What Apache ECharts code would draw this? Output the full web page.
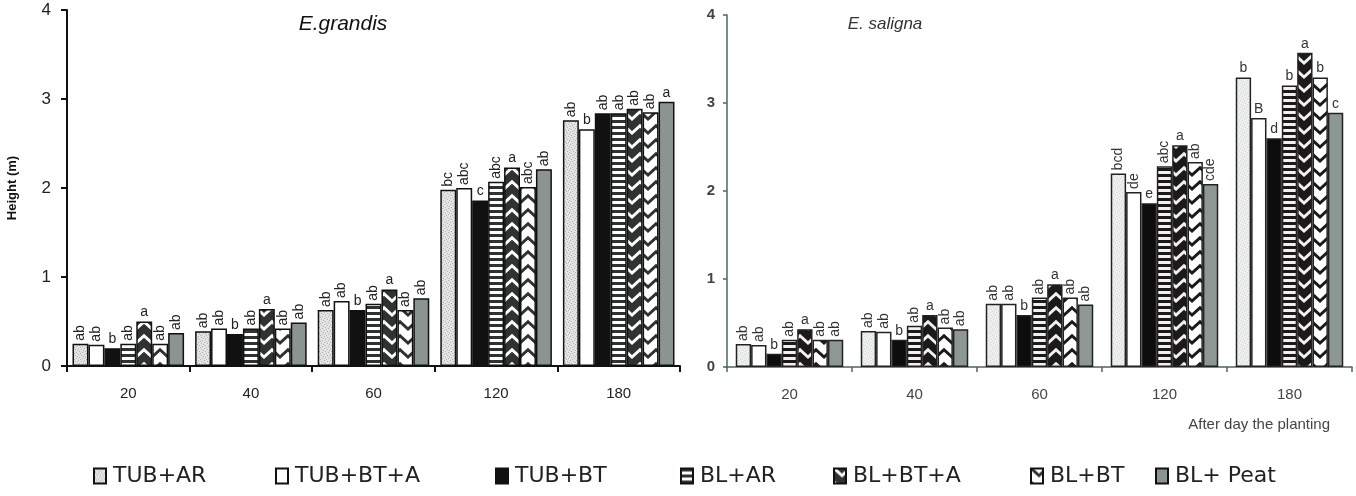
<!DOCTYPE html>
<html><head><meta charset="utf-8">
<script src="https://cdn.jsdelivr.net/npm/echarts@6/dist/echarts.min.js"></script>
<style>html,body{margin:0;padding:0;background:#fff}#c{width:1356px;height:496px}</style>
</head><body><div id="c"></div>
<script>
// ---- data ----
const categories = ['20', '40', '60', '120', '180'];
const treatments = ['TUB+AR', 'TUB+BT+A', 'TUB+BT', 'BL+AR', 'BL+BT+A', 'BL+BT', 'BL+ Peat'];
const yTicks = [0, 1, 2, 3, 4];

// E. grandis heights (m) per treatment across days 20,40,60,120,180
const grandis_TUB_AR   = [0.25, 0.39, 0.63, 1.98, 2.76];
const grandis_TUB_BT_A = [0.24, 0.42, 0.73, 2.00, 2.66];
const grandis_TUB_BT   = [0.20, 0.36, 0.63, 1.86, 2.84];
const grandis_BL_AR    = [0.25, 0.42, 0.70, 2.07, 2.84];
const grandis_BL_BT_A  = [0.50, 0.64, 0.86, 2.23, 2.89];
const grandis_BL_BT    = [0.25, 0.42, 0.63, 2.01, 2.85];
const grandis_BL_Peat  = [0.37, 0.49, 0.76, 2.21, 2.97];

const grandisLetters_TUB_AR   = ['ab', 'ab', 'ab', 'bc', 'ab'];
const grandisLetters_TUB_BT_A = ['ab', 'ab', 'ab', 'abc', 'b'];
const grandisLetters_TUB_BT   = ['b', 'b', 'b', 'c', 'ab'];
const grandisLetters_BL_AR    = ['ab', 'ab', 'ab', 'abc', 'ab'];
const grandisLetters_BL_BT_A  = ['a', 'a', 'a', 'a', 'ab'];
const grandisLetters_BL_BT    = ['ab', 'ab', 'ab', 'abc', 'ab'];
const grandisLetters_BL_Peat  = ['ab', 'ab', 'ab', 'ab', 'a'];

// E. saligna heights (m)
const saligna_TUB_AR   = [0.26, 0.41, 0.72, 2.20, 3.29];
const saligna_TUB_BT_A = [0.25, 0.40, 0.72, 1.99, 2.83];
const saligna_TUB_BT   = [0.15, 0.31, 0.59, 1.86, 2.60];
const saligna_BL_AR    = [0.31, 0.47, 0.79, 2.28, 3.20];
const saligna_BL_BT_A  = [0.43, 0.59, 0.94, 2.52, 3.57];
const saligna_BL_BT    = [0.31, 0.45, 0.79, 2.33, 3.29];
const saligna_BL_Peat  = [0.31, 0.43, 0.71, 2.08, 2.89];

const salignaLetters_TUB_AR   = ['ab', 'ab', 'ab', 'bcd', 'b'];
const salignaLetters_TUB_BT_A = ['ab', 'ab', 'ab', 'de', 'B'];
const salignaLetters_TUB_BT   = ['b', 'b', 'b', 'e', 'd'];
const salignaLetters_BL_AR    = ['ab', 'ab', 'ab', 'abc', 'b'];
const salignaLetters_BL_BT_A  = ['a', 'a', 'a', 'a', 'a'];
const salignaLetters_BL_BT    = ['ab', 'ab', 'ab', 'ab', 'b'];
const salignaLetters_BL_Peat  = ['ab', 'ab', 'ab', 'cde', 'c'];

const grandisValues = [grandis_TUB_AR, grandis_TUB_BT_A, grandis_TUB_BT, grandis_BL_AR, grandis_BL_BT_A, grandis_BL_BT, grandis_BL_Peat];
const grandisLetters = [grandisLetters_TUB_AR, grandisLetters_TUB_BT_A, grandisLetters_TUB_BT, grandisLetters_BL_AR, grandisLetters_BL_BT_A, grandisLetters_BL_BT, grandisLetters_BL_Peat];
const salignaValues = [saligna_TUB_AR, saligna_TUB_BT_A, saligna_TUB_BT, saligna_BL_AR, saligna_BL_BT_A, saligna_BL_BT, saligna_BL_Peat];
const salignaLetters = [salignaLetters_TUB_AR, salignaLetters_TUB_BT_A, salignaLetters_TUB_BT, salignaLetters_BL_AR, salignaLetters_BL_BT_A, salignaLetters_BL_BT, salignaLetters_BL_Peat];

// ---- patterns ----
function tile(w, h, draw) {
  const c = document.createElement('canvas'); c.width = w; c.height = h;
  draw(c.getContext('2d'), w, h); return c;
}
function dots(bg, fg) {
  return tile(6, 6, (g) => { g.fillStyle = bg; g.fillRect(0, 0, 6, 6); g.fillStyle = fg;
    [[0,0],[3,1],[1,3],[4,4],[5,2],[2,5]].forEach(p => g.fillRect(p[0], p[1], 1, 1)); });
}
function stripes(dark, light) {
  return tile(4, 6, (g) => { g.fillStyle = light; g.fillRect(0, 0, 4, 6); g.fillStyle = dark; g.fillRect(0, 0, 4, 3); });
}
function chevron(bg, fg, lw) {
  return tile(16, 14, (g, w, h) => {
    g.fillStyle = bg; g.fillRect(0, 0, w, h);
    g.strokeStyle = fg; g.lineWidth = lw; g.lineCap = 'square';
    for (const off of [-14, 0, 14]) {
      g.beginPath(); g.moveTo(-2, off - 2); g.lineTo(8, off + 7); g.lineTo(18, off - 2); g.stroke();
    }
  });
}
function pat(c) { return { image: c, repeat: 'repeat' }; }

const leftFills = [
  pat(dots('#e4e4e4', '#b0b0b0')), '#ffffff', '#111111',
  pat(stripes('#2e3230', '#ffffff')), pat(chevron('#2e3330', '#ffffff', 3)),
  pat(chevron('#ffffff', '#2e3330', 3)), '#8b9491'
];
const rightFills = [
  pat(dots('#eef0ef', '#d2d6d4')), '#ffffff', '#0d0d0d',
  pat(stripes('#1a1a1a', '#f6eeee')), pat(chevron('#1a1a1a', '#f4f0f0', 3)),
  pat(chevron('#ffffff', '#1a1a1a', 3)), '#8d9895'
];

function buildData(vals, letters) {
  return vals.map((v, i) => {
    const t = letters[i];
    const rot = t.length > 1;
    return {
      value: v,
      label: rot ? { rotate: 90, align: 'left', verticalAlign: 'middle', distance: 3, formatter: t }
                 : { rotate: 0, distance: 2, formatter: t }
    };
  });
}

const series = [];
treatments.forEach((name, k) => {
  series.push({
    name, type: 'bar', xAxisIndex: 0, yAxisIndex: 0, barGap: '0%', barCategoryGap: '9%',
    data: buildData(grandisValues[k], grandisLetters[k]),
    itemStyle: { color: leftFills[k], borderColor: '#111', borderWidth: 1.5 },
    label: { show: true, position: 'top', fontFamily: 'Liberation Sans', fontSize: 14, color: '#222' },
    animation: false
  });
  series.push({
    name, type: 'bar', xAxisIndex: 1, yAxisIndex: 1, barGap: '0%', barCategoryGap: '14%',
    data: buildData(salignaValues[k], salignaLetters[k]),
    itemStyle: { color: rightFills[k], borderColor: '#222', borderWidth: 1.5 },
    label: { show: true, position: 'top', fontFamily: 'Liberation Sans', fontSize: 14, color: '#333' },
    animation: false
  });
});

const legendX = [88, 270, 490, 675, 828, 1025, 1150];
const legends = treatments.map((name, k) => ({
  data: [name], left: legendX[k], top: 460, itemWidth: 12, itemHeight: 15, itemGap: 4,
  selectedMode: false, icon: 'rect',
  textStyle: { fontFamily: 'DejaVu Sans', fontSize: 22, color: '#222', padding: [0, 0, 0, 2] }
}));

const chart = echarts.init(document.getElementById('c'), null, { renderer: 'canvas' });
chart.setOption({
  backgroundColor: '#ffffff',
  animation: false,
  title: [
    { text: 'E.grandis', left: 338, top: 9, textAlign: 'center',
      textStyle: { fontFamily: 'Liberation Sans', fontStyle: 'italic', fontWeight: 'normal', fontSize: 21, color: '#111' } },
    { text: 'E. saligna', left: 880, top: 11, textAlign: 'center',
      textStyle: { fontFamily: 'Liberation Sans', fontStyle: 'italic', fontWeight: 'normal', fontSize: 17, color: '#333' } }
  ],
  legend: legends,
  grid: [
    { left: 67, right: 676, top: 10, bottom: 130 },
    { left: 727, right: 4, top: 15, bottom: 129 }
  ],
  xAxis: [
    { type: 'category', gridIndex: 0, data: categories,
      axisLine: { lineStyle: { color: '#111', width: 2 } },
      axisTick: { show: true, alignWithLabel: false, length: 6, lineStyle: { color: '#111', width: 2 } },
      axisLabel: { color: '#222', fontFamily: 'Liberation Sans', fontSize: 15, margin: 20 } },
    { type: 'category', gridIndex: 1, data: categories,
      name: 'After day the planting', nameLocation: 'end', nameGap: -22,
      nameTextStyle: { align: 'right', verticalAlign: 'top', padding: [50, 0, 0, 0], fontFamily: 'Liberation Sans', fontSize: 15, color: '#444' },
      axisLine: { lineStyle: { color: '#4f6461', width: 1.5 } },
      axisTick: { show: true, length: 5, lineStyle: { color: '#4f6461', width: 1.5 } },
      axisLabel: { color: '#444', fontFamily: 'Liberation Sans', fontSize: 15, margin: 20 } }
  ],
  yAxis: [
    { type: 'value', gridIndex: 0, min: yTicks[0], max: yTicks[yTicks.length - 1], interval: 1,
      name: 'Height (m)', nameLocation: 'middle', nameGap: 48,
      nameTextStyle: { fontFamily: 'Liberation Sans', fontWeight: 'bold', fontSize: 13, color: '#111' },
      axisLine: { show: true, lineStyle: { color: '#111', width: 2 } },
      axisTick: { show: true, length: 6, lineStyle: { color: '#111', width: 2 } },
      axisLabel: { color: '#222', fontFamily: 'Liberation Sans', fontSize: 17, margin: 16 },
      splitLine: { show: false } },
    { type: 'value', gridIndex: 1, min: yTicks[0], max: yTicks[yTicks.length - 1], interval: 1,
      axisLine: { show: true, lineStyle: { color: '#4f6461', width: 1.5 } },
      axisTick: { show: true, length: 4, lineStyle: { color: '#4f6461', width: 1.5 } },
      axisLabel: { color: '#444', fontFamily: 'Liberation Sans', fontSize: 15, fontWeight: 'bold', margin: 12 },
      splitLine: { show: false } }
  ],
  series
});
</script>
</body></html>
